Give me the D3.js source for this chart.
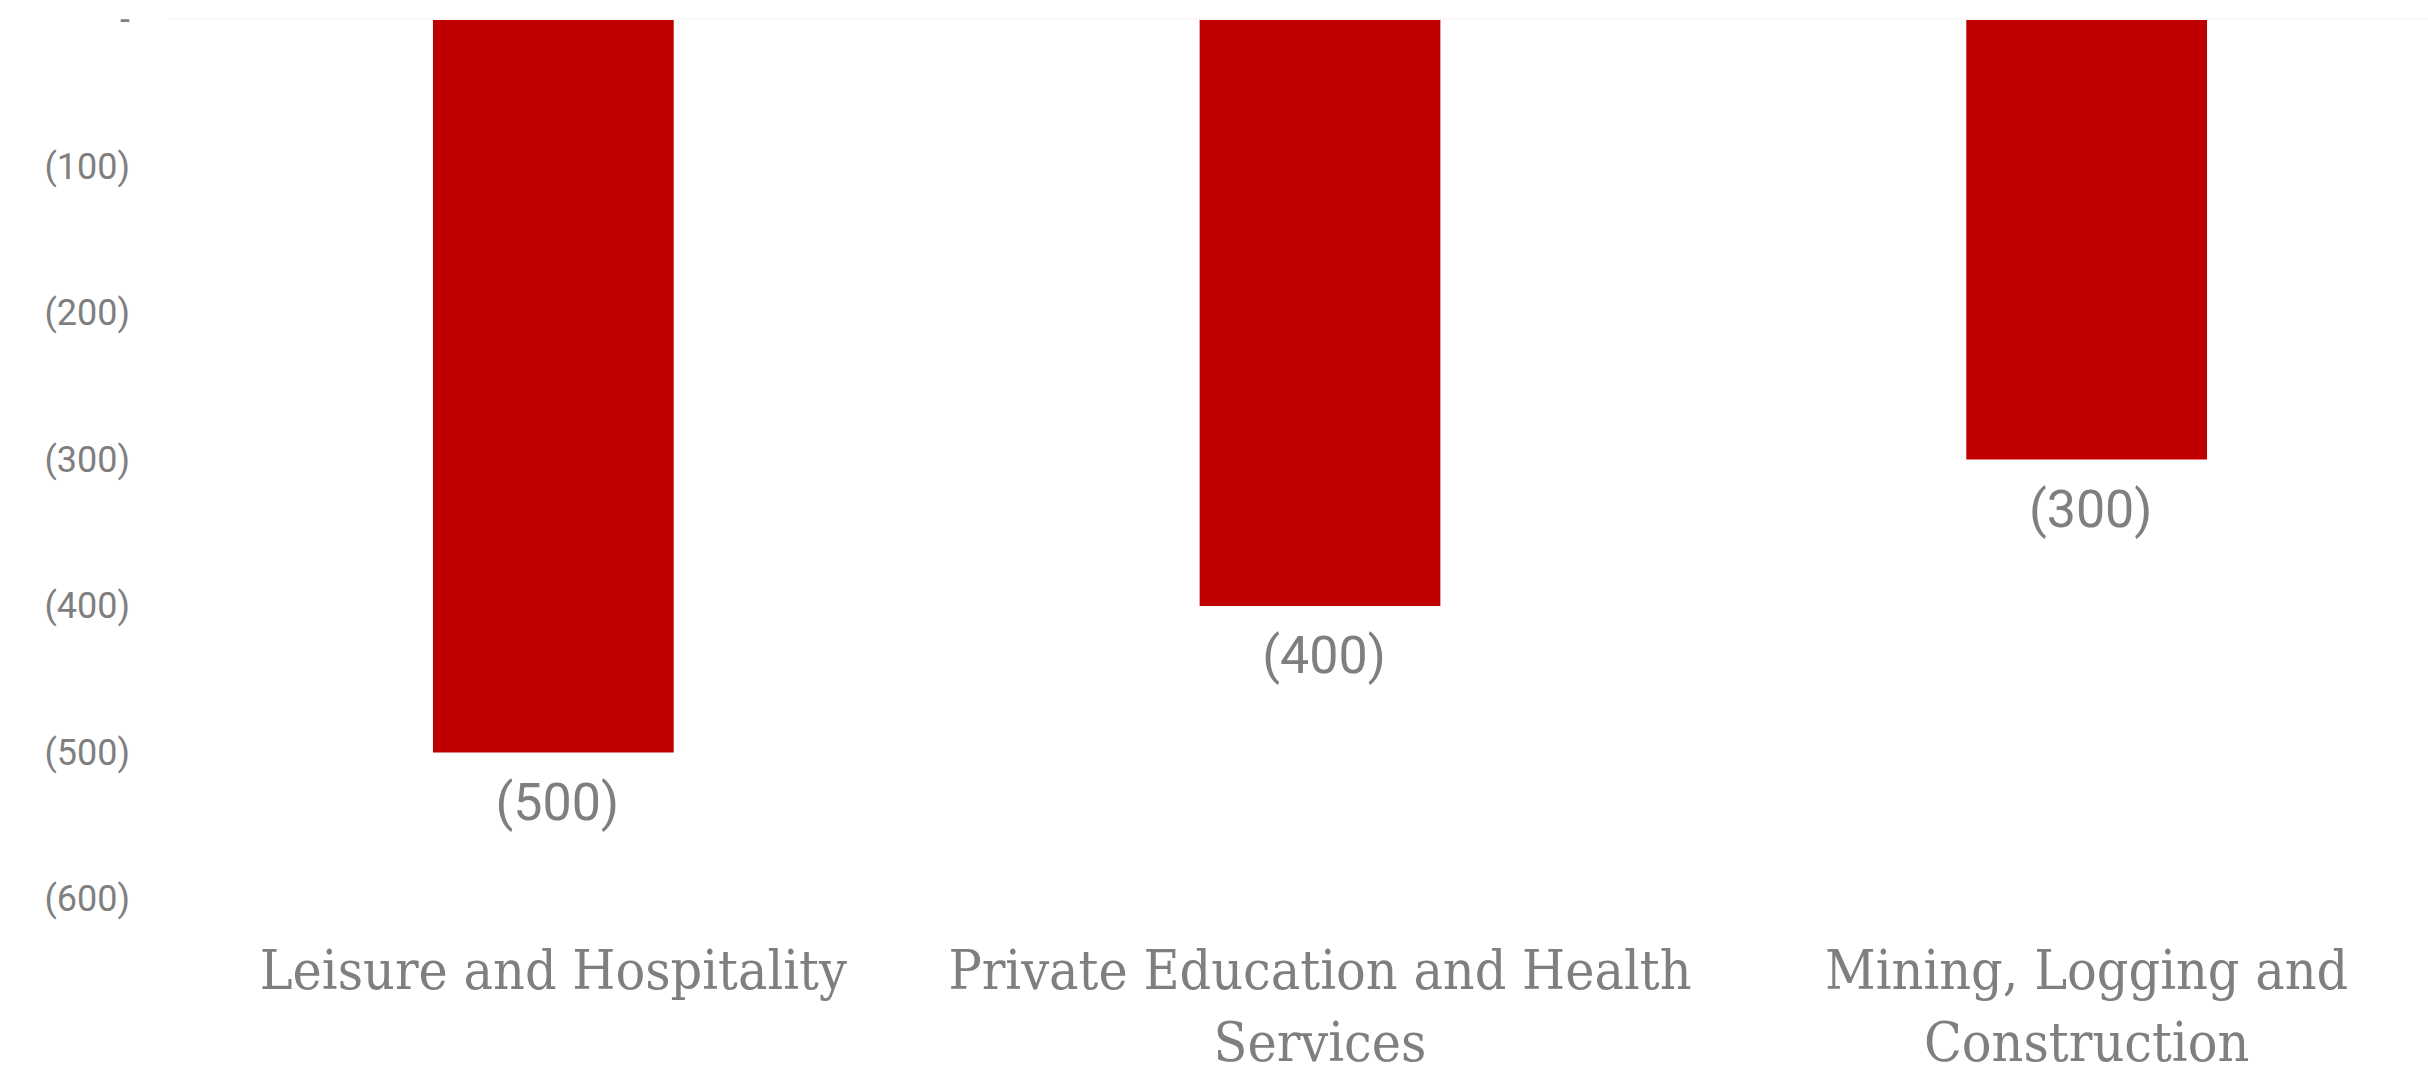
<!DOCTYPE html>
<html>
  <head>
    <title>Job losses by sector</title>
    <script src="https://d3js.org/d3.v7.min.js"></script>
    <style>
      body { background-color: white; margin: 0; }
    </style>
  </head>
  <body>
    <svg id="canvas" width="2428" height="1081"></svg>

    <script>
      // data
      const categories = ['Leisure and Hospitality', 'Private Education and Health Services', 'Mining, Logging and Construction']
      const values = [-500, -400, -300]
      const yTicks = [0, -100, -200, -300, -400, -500, -600]

      const barColor = '#c00000'
      const textColor = '#7f7f7f'

      const margin = { top: 20, right: -42, bottom: 182, left: 170 }

      const svg = d3.select('#canvas')
      const width = svg.attr('width') - margin.left - margin.right
      const height = svg.attr('height') - margin.top - margin.bottom
      const g = svg.append('g').attr('transform', `translate(${margin.left}, ${margin.top})`)

      const x = d3.scaleBand()
        .domain(categories)
        .range([0, width])
        .paddingInner(0.686)
        .paddingOuter(0.343)

      const y = d3.scaleLinear().domain([0, -600]).range([0, 879])

      const fmt = d => d === 0 ? '-' : `(${Math.abs(d)})`

      // y axis labels (no line, no ticks)
      const yAxis = g.append('g')
        .call(d3.axisLeft(y).tickValues(yTicks).tickFormat(fmt).tickSize(0).tickPadding(40))
      yAxis.select('.domain').remove()
      yAxis.selectAll('text')
        .attr('fill', textColor)
        .style('font-family', 'Roboto, sans-serif')
        .style('font-size', '36px')

      // zero line, very faint
      g.append('line')
        .attr('x1', 0)
        .attr('x2', 2428 - margin.left)
        .attr('y1', y(0) - 1)
        .attr('y2', y(0) - 1)
        .attr('stroke', '#f7f7f7')
        .attr('stroke-width', 2)

      // bars
      g.selectAll('rect.bar')
        .data(values)
        .enter()
        .append('rect')
          .attr('class', 'bar')
          .attr('x', (d, i) => x(categories[i]))
          .attr('y', d => y(Math.max(0, d)))
          .attr('width', x.bandwidth())
          .attr('height', d => Math.abs(y(d) - y(0)))
          .attr('fill', barColor)

      // value labels
      g.selectAll('text.value')
        .data(values)
        .enter()
        .append('text')
          .attr('class', 'value')
          .attr('x', (d, i) => x(categories[i]) + x.bandwidth() / 2 + 4)
          .attr('y', d => y(d) + 67)
          .attr('text-anchor', 'middle')
          .attr('fill', textColor)
          .style('font-family', 'Roboto, sans-serif')
          .style('font-size', '52px')
          .text(fmt)

      // category labels, wrapped to the band step
      const wrap = (textSel, maxWidth) => {
        textSel.each(function () {
          const text = d3.select(this)
          const words = text.text().split(/\s+/)
          const xPos = text.attr('x')
          const lineHeight = 72
          text.text(null)
          let line = []
          let tspan = text.append('tspan').attr('x', xPos).attr('dy', 0)
          words.forEach(word => {
            line.push(word)
            tspan.text(line.join(' '))
            if (tspan.node().getComputedTextLength() > maxWidth && line.length > 1) {
              line.pop()
              tspan.text(line.join(' '))
              line = [word]
              tspan = text.append('tspan').attr('x', xPos).attr('dy', lineHeight).text(word)
            }
          })
        })
      }

      g.selectAll('text.category')
        .data(categories)
        .enter()
        .append('text')
          .attr('class', 'category')
          .attr('x', d => x(d) + x.bandwidth() / 2)
          .attr('y', 989 - margin.top)
          .attr('text-anchor', 'middle')
          .attr('fill', textColor)
          .style('font-family', '"DejaVu Serif Condensed", "DejaVu Serif", serif')
          .style('font-stretch', 'condensed')
          .style('font-size', '55px')
          .text(d => d)
          .call(wrap, x.step() - 10)
    </script>
  </body>
</html>
